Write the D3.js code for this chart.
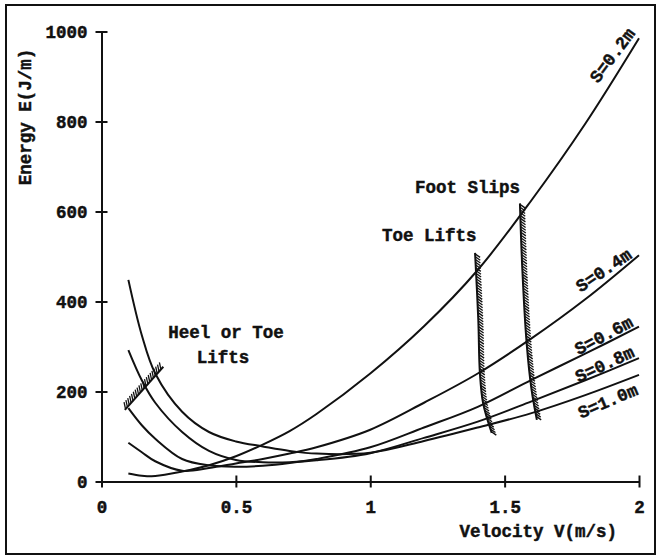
<!DOCTYPE html>
<html>
<head>
<meta charset="utf-8">
<script src="https://cdn.jsdelivr.net/npm/d3@7"></script>
<style>
  body { margin: 0; background: #fff; }
  text { font-family: "Liberation Mono", monospace; font-weight: bold; font-size: 17.5px; fill: #111; stroke: #111; stroke-width: 0.45px; }
</style>
</head>
<body>
<div id="chart"></div>
<script>
const width = 661;
const height = 557;

// velocity V (m/s) where the curves were read
const velocity = [0.1, 0.15, 0.2, 0.3, 0.4, 0.5, 0.6, 0.7, 0.8, 1.0, 1.2, 1.4, 1.6, 1.8, 2.0];
// energy E (J/m) for each stride length
const energy_s02 = [18, 13, 12, 22, 36, 56, 82, 112, 150, 240, 345, 470, 625, 795, 985];
const energy_s04 = [86, 65, 45, 24, 30, 40, 50, 62, 76, 115, 175, 240, 318, 405, 503];
const energy_s06 = [163, 125, 95, 50, 36, 33, 35, 41, 50, 76, 120, 166, 226, 284, 344];
const energy_s08 = [292, 225, 175, 110, 68, 48, 43, 43, 47, 63, 97, 133, 178, 225, 274];
const energy_s10 = [448, 325, 240, 155, 110, 89, 78, 68, 62, 64, 90, 120, 152, 192, 237];

const series_names = ["S=0.2m", "S=0.4m", "S=0.6m", "S=0.8m", "S=1.0m"];
const series_values = [energy_s02, energy_s04, energy_s06, energy_s08, energy_s10];
// label anchor (V, E) and rotation for the end labels
const label_v = [1.903, 1.87, 1.87, 1.873, 1.885];
const label_e = [946, 468, 323, 259, 177];
const label_angle = [-53, -34, -28, -25, -23];

// hatched boundaries
const heel_v = [0.087, 0.23];
const heel_e = [159, 255];
const toe_v = [1.39, 1.402, 1.408, 1.42, 1.452];
const toe_e = [508, 360, 241, 174, 108];
const slip_v = [1.557, 1.566, 1.582, 1.6, 1.62];
const slip_e = [618, 470, 307, 205, 137];

const x_ticks = [0, 0.5, 1, 1.5, 2];
const y_ticks = [0, 200, 400, 600, 800, 1000];

const svg = d3.select("#chart")
  .append("svg")
  .attr("width", width)
  .attr("height", height);

// outer frame
svg.append("rect")
  .attr("x", 6).attr("y", 5)
  .attr("width", 649).attr("height", 549)
  .attr("fill", "none")
  .attr("stroke", "#111")
  .attr("stroke-width", 2);

const x = d3.scaleLinear().domain([0, 2]).range([101.5, 639]);
const y = d3.scaleLinear().domain([0, 1000]).range([481.5, 31.5]);

// axes: plain lines with ticks crossing them
const xAxis = svg.append("g").attr("transform", "translate(0," + y(0) + ")")
  .call(d3.axisBottom(x).tickValues(x_ticks).tickSizeInner(6).tickSizeOuter(0).tickPadding(13)
    .tickFormat(d => String(d)));
const yAxis = svg.append("g").attr("transform", "translate(" + x(0) + ",0)")
  .call(d3.axisLeft(y).tickValues(y_ticks).tickSizeInner(6).tickSizeOuter(0).tickPadding(8)
    .tickFormat(d => String(d)));

[xAxis, yAxis].forEach(a => {
  a.select(".domain").attr("stroke", "#111").attr("stroke-width", 2);
  a.selectAll(".tick line").attr("stroke", "#111").attr("stroke-width", 2);
  a.selectAll(".tick text").attr("font-family", null).attr("font-size", null).attr("fill", null);
});
xAxis.selectAll(".tick line").attr("y1", -6);
yAxis.selectAll(".tick line").attr("x1", 6);

// axis titles
svg.append("text")
  .attr("x", 617).attr("y", 537)
  .attr("text-anchor", "end")
  .text("Velocity V(m/s)");
svg.append("text")
  .attr("transform", "translate(31,117) rotate(-90)")
  .attr("text-anchor", "middle")
  .text("Energy E(J/m)");

// curves
const line = d3.line()
  .x(d => x(d[0]))
  .y(d => y(d[1]))
  .curve(d3.curveCatmullRom.alpha(0.5));

series_values.forEach((vals, i) => {
  svg.append("path")
    .datum(velocity.map((v, j) => [v, vals[j]]))
    .attr("d", line)
    .attr("fill", "none")
    .attr("stroke", "#111")
    .attr("stroke-width", 2);

  svg.append("text")
    .attr("transform", "translate(" + x(label_v[i]) + "," + y(label_e[i]) + ") rotate(" + label_angle[i] + ")")
    .attr("text-anchor", "middle")
    .attr("dominant-baseline", "central")
    .text(series_names[i]);
});

// hatched boundary lines
const hatch_line = d3.line()
  .x(d => x(d[0]))
  .y(d => y(d[1]))
  .curve(d3.curveCatmullRom);

function draw_hatch(vs, es, dx, dy, step) {
  const p = svg.append("path")
    .datum(vs.map((v, j) => [v, es[j]]))
    .attr("d", hatch_line)
    .attr("fill", "none")
    .attr("stroke", "#111")
    .attr("stroke-width", 2);
  const node = p.node();
  const len = node.getTotalLength();
  const g = svg.append("g");
  for (let s = 1; s < len - 1; s += step) {
    const pt = node.getPointAtLength(s);
    g.append("line")
      .attr("x1", pt.x).attr("y1", pt.y)
      .attr("x2", pt.x + dx).attr("y2", pt.y + dy)
      .attr("stroke", "#111")
      .attr("stroke-width", 1.3);
  }
}

draw_hatch(heel_v, heel_e, -1.5, -7, 2.8);
draw_hatch(toe_v, toe_e, 5, 3.5, 2.8);
draw_hatch(slip_v, slip_e, 5, 3.5, 2.8);

// annotations
svg.append("text").attr("x", 226).attr("y", 338).attr("text-anchor", "middle").text("Heel or Toe");
svg.append("text").attr("x", 223).attr("y", 363).attr("text-anchor", "middle").text("Lifts");
svg.append("text").attr("x", 382).attr("y", 241).text("Toe Lifts");
svg.append("text").attr("x", 415).attr("y", 193).text("Foot Slips");
</script>
</body>
</html>
